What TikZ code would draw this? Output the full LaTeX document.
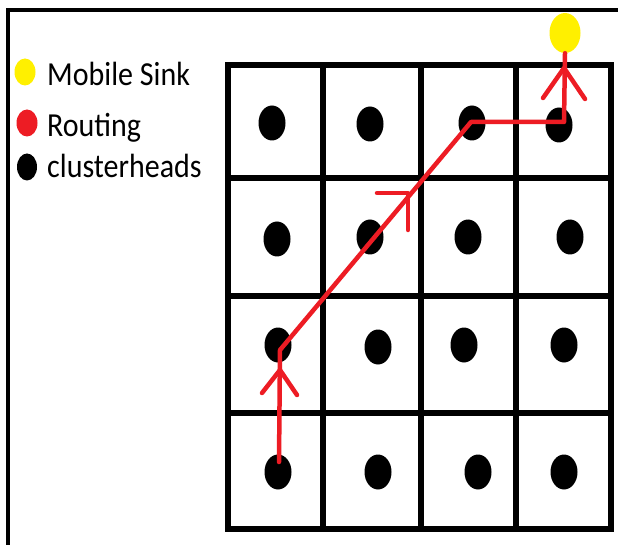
\documentclass[tikz,border=0pt]{standalone}
\usepackage{fontspec}
\setmainfont{Carlito}
\usetikzlibrary{shapes.geometric}
\definecolor{routered}{RGB}{237,28,36}
\definecolor{sinkyellow}{RGB}{255,240,0}
\begin{document}
\begin{tikzpicture}[x=1pt,y=-1pt,
  frameline/.style={line width=3.5pt,black},
  gridline/.style={line width=6pt,black},
  chdot/.style={ellipse,fill=black,inner sep=0pt,minimum width=27pt,minimum height=35pt},
  legdot/.style={ellipse,inner sep=0pt,minimum width=21pt,minimum height=27pt},
  legtext/.style={anchor=base west,inner sep=0pt,font=\fontsize{30}{33}\selectfont},
  route/.style={line width=4.5pt,routered,line cap=round,line join=round}]
\useasboundingbox (0,0) rectangle (618,545);
\fill[white] (0,0) rectangle (618,545);
% outer frame (open at right and bottom)
\draw[frameline] (8,545) -- (8,10) -- (618,10);
% legend
\node[legdot,fill=sinkyellow] (lsink) at (25,72) {};
\node[legdot,fill=routered] (lroute) at (27,123) {};
\node[legdot,fill=black,minimum width=20pt] (lch) at (27,167) {};
\node[legtext] (tsink) at (47,86) {\scalebox{1}[1.12]{Mobile Sink}};
\node[legtext] (troute) at (47,137) {\scalebox{1}[1.12]{Routing}};
\node[legtext] (tch) at (47,178) {\scalebox{1}[1.12]{clusterheads}};
% grid
\foreach \x in {228,323,421,516,611} \draw[gridline] (\x,65) -- (\x,529);
\foreach \y in {65,178,296,413,529} \draw[gridline] (225,\y) -- (614,\y);
% clusterheads
\node[chdot] (c11) at (272,123) {};
\node[chdot] (c12) at (370,124) {};
\node[chdot] (c13) at (472,123) {};
\node[chdot] (c14) at (559,125) {};
\node[chdot] (c21) at (277,239) {};
\node[chdot] (c22) at (370,237) {};
\node[chdot] (c23) at (468,237) {};
\node[chdot] (c24) at (570,237) {};
\node[chdot] (c31) at (278,345) {};
\node[chdot] (c32) at (378,347) {};
\node[chdot] (c33) at (464,345) {};
\node[chdot] (c34) at (564,345) {};
\node[chdot] (c41) at (278,472) {};
\node[chdot] (c42) at (378,472) {};
\node[chdot] (c43) at (478,472) {};
\node[chdot] (c44) at (564,472) {};
% mobile sink
\node[ellipse,fill=sinkyellow,inner sep=0pt,minimum width=31pt,minimum height=40pt] (sink) at (565,33) {};
% routing path
\coordinate (p0) at (279,462);
\coordinate (p1) at (280,350);
\coordinate (p2) at (471,122);
\coordinate (p3) at (564,122);
\draw[route] (p0) -- (p1) -- (p2) -- (p3) -- (sink.south);
% arrowheads (open chevrons)
\coordinate (a1) at (280,370);
\draw[route] (262,393) -- (a1) -- (297,395);
\coordinate (a2) at (408,193);
\draw[route] (377,193) -- (a2) -- (408,230);
\coordinate (a3) at (564,68);
\draw[route] (543,98) -- (a3) -- (585,99);
\end{tikzpicture}
\end{document}
